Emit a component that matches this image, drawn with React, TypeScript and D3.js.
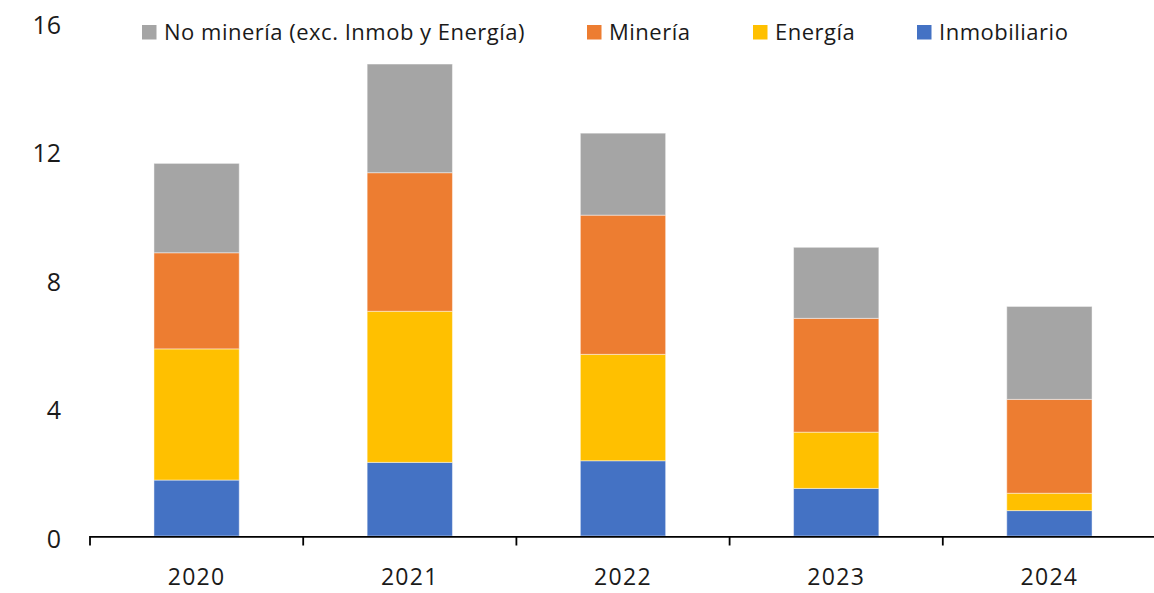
import React from "react";
import * as d3 from "d3";

const years = ["2020", "2021", "2022", "2023", "2024"];
const inmobiliario = [1.74, 2.29, 2.34, 1.48, 0.79];
const energia = [4.08, 4.7, 3.31, 1.75, 0.54];
const mineria = [2.99, 4.31, 4.33, 3.54, 2.92];
const noMineria = [2.78, 3.38, 2.55, 2.21, 2.89];
const yTicks = [0, 4, 8, 12, 16];

const seriesKeys = ["inmob", "energia", "mineria", "nomin"];
const seriesColors: Record<string, string> = {
  inmob: "#4472C4",
  energia: "#FFC000",
  mineria: "#ED7D31",
  nomin: "#A5A5A5",
};
const legendItems = [
  { key: "nomin", label: "No minería (exc. Inmob y Energía)", x: 142 },
  { key: "mineria", label: "Minería", x: 587 },
  { key: "energia", label: "Energía", x: 753 },
  { key: "inmob", label: "Inmobiliario", x: 917 },
];

export default function App() {
  const W = 1154;
  const H = 593;
  const font = "'Open Sans', sans-serif";
  const x = d3
    .scaleBand<string>()
    .domain(years)
    .range([90, 1156])
    .paddingInner(0.6)
    .paddingOuter(0.3);
  const y = d3.scaleLinear().domain([0, 16]).range([536, 21.6]);

  const table = years.map((yr, i) => ({
    year: yr,
    inmob: inmobiliario[i],
    energia: energia[i],
    mineria: mineria[i],
    nomin: noMineria[i],
  }));
  const stacked = d3.stack<any>().keys(seriesKeys)(table);
  const step = x.step();
  const tickXs = years.map((yr) => (x(yr) as number) - x.paddingOuter() * step);

  return (
    <svg
      width={W}
      height={H}
      style={{ position: "absolute", left: 0, top: 0, background: "#fff" }}
      fontFamily={font}
    >
      {stacked.map((s) => (
        <g key={s.key} fill={seriesColors[s.key]}>
          {s.map((d, i) => (
            <rect
              key={i}
              x={x(years[i])}
              width={x.bandwidth()}
              y={y(d[1])}
              height={y(d[0]) - y(d[1])}
              stroke="#ffffff"
              strokeOpacity={0.45}
              strokeWidth={1}
            />
          ))}
        </g>
      ))}
      {/* x axis */}
      <line x1={90} x2={W} y1={536.8} y2={536.8} stroke="#000" strokeWidth={1.8} />
      {tickXs.map((tx, i) => (
        <line key={i} x1={tx} x2={tx} y1={536} y2={545.5} stroke="#000" strokeWidth={1.8} />
      ))}
      {years.map((yr) => (
        <text
          key={yr}
          x={(x(yr) as number) + x.bandwidth() / 2}
          y={584.5}
          textAnchor="middle"
          fontSize={23}
          letterSpacing={1.3}
          fill="#1a1a1a"
        >
          {yr}
        </text>
      ))}
      {yTicks.map((t) => (
        <text
          key={t}
          x={61}
          y={y(t) + 2}
          textAnchor="end"
          dominantBaseline="central"
          fontSize={25}
          fill="#1a1a1a"
        >
          {t}
        </text>
      ))}
      {legendItems.map((it) => (
        <g key={it.key}>
          <rect x={it.x} y={25} width={14.5} height={14.5} fill={seriesColors[it.key]} />
          <text x={it.x + 22} y={40} fontSize={22} letterSpacing={0.5} fill="#1a1a1a">
            {it.label}
          </text>
        </g>
      ))}
    </svg>
  );
}
